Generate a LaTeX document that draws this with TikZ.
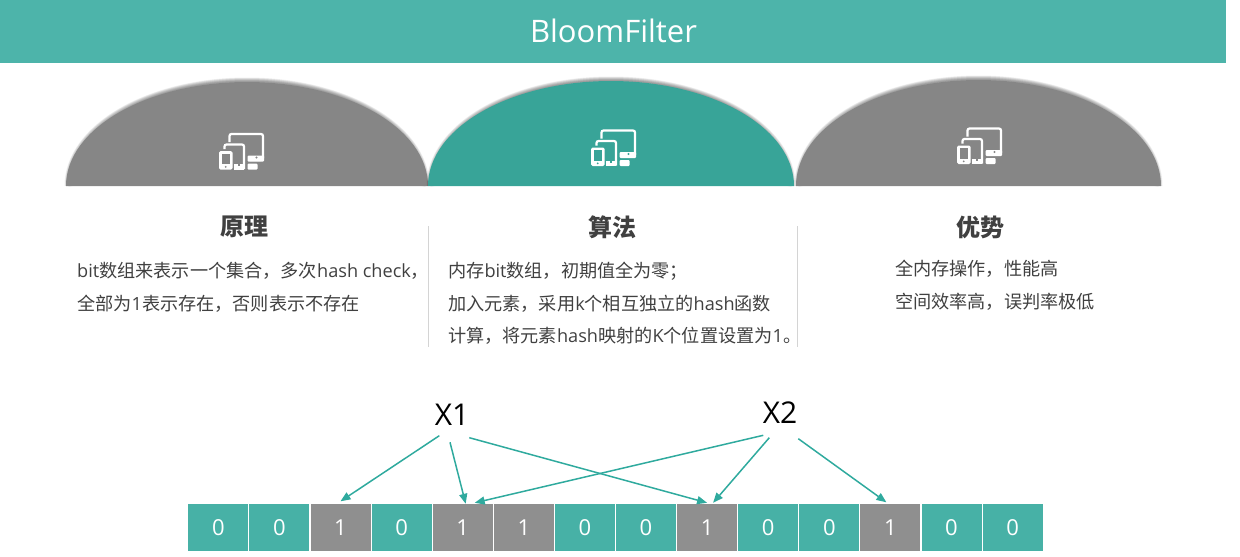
\documentclass[tikz,border=0pt]{standalone}
\usepackage{fontspec}
\setmainfont{Open Sans}
\newfontfamily\cjk{Noto Sans CJK SC}
\usetikzlibrary{arrows.meta}
\definecolor{headteal}{HTML}{4DB4AA}
\definecolor{domeT}{HTML}{38A498}
\definecolor{domeG}{HTML}{868686}
\definecolor{cellT}{HTML}{47B1A6}
\definecolor{cellG}{HTML}{8F8F8F}
\definecolor{arrowT}{HTML}{2FAA9E}
\definecolor{txt}{HTML}{404040}
\definecolor{rulegray}{HTML}{D4D4D4}
\newcommand\C[1]{{\cjk #1}}
\newcommand\fs[1]{\fontsize{#1}{#1}\selectfont}
\newcommand\dome[4]{% left x, right x, top y, colour
  \pgfmathsetmacro\rx{(#2-#1)/2}\pgfmathsetmacro\ry{186-#3}
  \pgfmathsetmacro\srx{\rx-2.5}\pgfmathsetmacro\sry{\ry+0.5}
  \begin{scope}
    \clip (#1-12,60) rectangle (#2+12,186);
    \foreach \w in {1,2,3,4,5,6,7,8}
      \draw[black,opacity=.06,line width=\w pt] (#1+2.5,186) arc[start angle=180,end angle=0,x radius=\srx pt,y radius=\sry pt];
  \end{scope}
  \fill[#4] (#1,186) arc[start angle=180,end angle=0,x radius=\rx pt,y radius=\ry pt] -- cycle;
}
\newcommand\deviceicon[3]{% x, y, background colour
  \begin{scope}[shift={(#1,#2)}]
    \draw[white,iconline] (10,9) -- (10,1) -- (43.5,1) -- (43.5,27) -- (30,27);
    \draw[white,iconline] (5,16) -- (5,11.5) -- (24.5,11.5) -- (24.5,36);
    \fill[white,rounded corners=1pt] (28,22.5) rectangle (44.5,28.5);
    \fill[#3] (37,24.5) circle (1.1);
    \fill[white,rounded corners=1pt] (28,30.5) rectangle (38,36.5);
    \fill[white] (14,31) rectangle (24.5,36.5);
    \fill[#3] (18,31) rectangle (20,33);
    \fill[white,rounded corners=1.5pt] (-0.5,18) rectangle (13,36.5);
    \fill[#3] (2,20.5) rectangle (10.5,31);
    \fill[#3] (6.2,33.8) circle (1);
  \end{scope}
}
\tikzset{
  x=1pt,y=-1pt,
  iconline/.style={line width=2.2pt,rounded corners=2pt},
  bitzero/.style={fill=cellT,bitcell},
  bitone/.style={fill=cellG,bitcell},
  bitcell/.style={minimum width=60pt,minimum height=47pt,inner sep=0,text=white,font=\fs{22}},
  heading/.style={font=\cjk\bfseries\fs{24},text=txt,inner sep=0},
  body/.style={font=\fs{18.15},text=txt,anchor=west,inner sep=0},
  xlabel/.style={font=\fs{30},text=black,inner sep=0},
  hit/.style={arrowT,line width=1.5pt,-{Triangle[length=10pt,width=8pt]}},
  divider/.style={rulegray,line width=1pt},
}
\begin{document}
\begin{tikzpicture}
\useasboundingbox (0,0) rectangle (1240,557);
\fill[headteal] (0,0) rectangle (1226,63);
\node[font=\fs{31},text=white,inner sep=0] (title) at (613.5,31) {BloomFilter};

\dome{66}{428}{82}{domeG}
\dome{796}{1161}{80}{domeG}
\dome{428}{794}{81}{domeT}

\deviceicon{219.5}{133}{domeG}
\deviceicon{591.5}{129.5}{domeT}
\deviceicon{957.5}{127.5}{domeG}

\node[heading] (h1) at (244,227) {原理};
\node[heading] (h2) at (612,227) {算法};
\node[heading] (h3) at (980,227) {优势};

\draw[divider] (428.5,226) -- (428.5,347);
\draw[divider] (797,226) -- (797,347);

\node[body] (a1) at (77,271) {bit\C{数组来表示一个集合，多次}hash check\C{，}};
\node[body] (a2) at (77,304) {\C{全部为}1\C{表示存在，否则表示不存在}};
\node[body] (b1) at (448,271) {\C{内存}bit\C{数组，初期值全为零；}};
\node[body] (b2) at (448,304) {\C{加入元素，采用}k\C{个相互独立的}hash\C{函数}};
\node[body] (b3) at (448,336) {\C{计算，将元素}hash\C{映射的}K\C{个位置设置为}1\C{。}};
\node[body] (d1) at (895,269) {\C{全内存操作，性能高}};
\node[body] (d2) at (895,302) {\C{空间效率高，误判率极低}};

\node[xlabel] (x1) at (452,415) {X1};
\node[xlabel] (x2) at (780,413) {X2};

\foreach \i/\b/\s in {1/0/bitzero,2/0/bitzero,3/1/bitone,4/0/bitzero,5/1/bitone,6/1/bitone,7/0/bitzero,8/0/bitzero,9/1/bitone,10/0/bitzero,11/0/bitzero,12/1/bitone,13/0/bitzero,14/0/bitzero}
  \node[\s] (c\i) at ({218.3+61.1*(\i-1)},527.5) {\b};

\draw[hit] ([shift={(-12.7,20.7)}]x1.center) -- ([xshift=0pt,yshift=2.5pt]c3.north);
\draw[hit] ([shift={(-2,27.3)}]x1.center) -- ([xshift=3pt,yshift=0pt]c5.north);
\draw[hit] ([shift={(17.3,22.7)}]x1.center) -- ([xshift=0pt,yshift=1pt]c9.north);
\draw[hit] ([shift={(-16.7,22.3)}]x2.center) -- ([xshift=12pt,yshift=1pt]c5.north);
\draw[hit] ([shift={(-10.7,24.7)}]x2.center) -- ([xshift=6pt,yshift=1pt]c9.north);
\draw[hit] ([shift={(18.3,25.7)}]x2.center) -- ([xshift=-4pt,yshift=1.5pt]c12.north);
\end{tikzpicture}
\end{document}
